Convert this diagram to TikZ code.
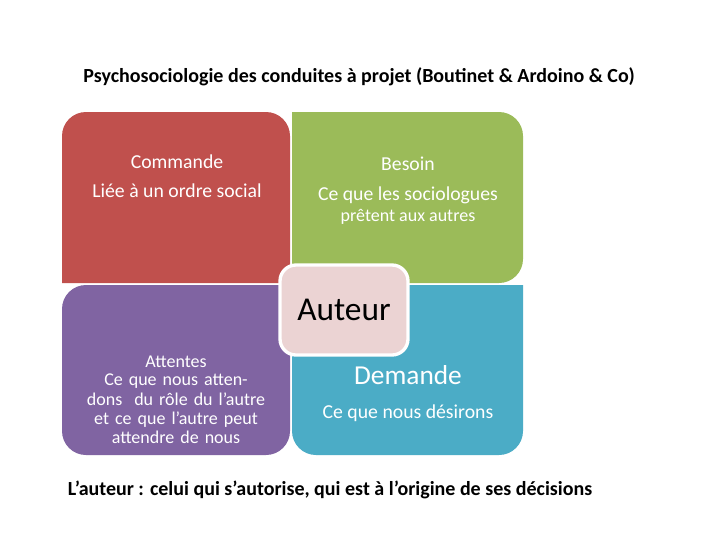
\documentclass[tikz,border=0pt]{standalone}
\usepackage{fontspec}
\setmainfont{Carlito}
\definecolor{qred}{HTML}{C0504D}
\definecolor{qgreen}{HTML}{9BBB59}
\definecolor{qpurple}{HTML}{8064A2}
\definecolor{qblue}{HTML}{4BACC6}
\definecolor{qpink}{HTML}{EBD3D3}
\begin{document}
\begin{tikzpicture}[x=0.75pt,y=-0.75pt,
  qtxt/.style={text=white,align=center,font=\fontsize{14.8}{17}\selectfont},
  qtxts/.style={text=white,align=center,font=\fontsize{13.5}{14.5}\selectfont}]
\useasboundingbox (0,0) rectangle (720,540);
\fill[white] (0,0) rectangle (720,540);
\node[font=\bfseries\fontsize{15}{17}\selectfont] (title) at (359,77) {Psychosociologie des conduites à projet (Boutinet \& Ardoino \& Co)};
% quadrants
\fill[qred] (62,283) [rounded corners=18] -- (62,112) -- (290,112) [sharp corners] -- (290,283) -- cycle;
\fill[qgreen] (292,112) [rounded corners=18] -- (523,112) -- (523,283) [sharp corners] -- (292,283) -- cycle;
\fill[qpurple] (290,285) [rounded corners=18] -- (290,455) -- (62,455) -- (62,285) [sharp corners] -- cycle;
\fill[qblue] (292,285) -- (523,285) [rounded corners=18] -- (523,455) -- (292,455) [sharp corners] -- cycle;
\node[qtxt] (t1) at (177,162) {Commande};
\node[qtxt] (t2) at (177,191) {Liée à un ordre social};
\node[qtxt] (t3) at (408,164) {Besoin};
\node[qtxt] (t4) at (408,195) {Ce que les sociologues};
\node[qtxts] (t5) at (408,217) {prêtent aux autres};
\node[qtxts] (t6) at (176,362) {Attentes};
\node[qtxts,text width=150pt] (t7) at (176,409) {Ce que nous attendons~ du rôle du l’autre et ce que l’autre peut attendre de nous};
\node[text=white,font=\fontsize{20.5}{22}\selectfont] (t8) at (408,375) {Demande};
\node[qtxt] (t9) at (408,413) {Ce que nous désirons};
% center
\draw[fill=qpink,draw=white,line width=2.5pt,rounded corners=12] (280,265) rectangle (408,355);
\node[font=\fontsize{25}{27}\selectfont] (aut) at (344,310) {Auteur};
\node[font=\bfseries\fontsize{15}{17}\selectfont] (foot) at (330,490) {L’auteur : celui qui s’autorise, qui est à l’origine de ses décisions};
\end{tikzpicture}
\end{document}
